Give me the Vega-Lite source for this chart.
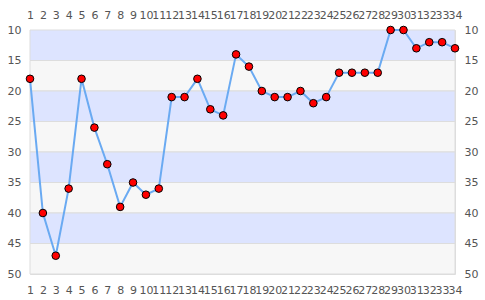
{
  "$schema": "https://vega.github.io/schema/vega-lite/v6.json",
  "width": 425,
  "height": 244,
  "autosize": "none",
  "padding": {"left": 30, "top": 30, "right": 30, "bottom": 26},
  "config": {
    "view": {"stroke": "#dddddd", "strokeWidth": 1},
    "font": "DejaVu Sans",
    "axis": {"labelFont": "DejaVu Sans", "labelFontSize": 11, "labelColor": "#555555", "ticks": false, "domain": false, "grid": false, "title": null}
  },
  "datasets": {
    "bands": [
      {"y1": 10, "y2": 15, "c": "a"},
      {"y1": 15, "y2": 20, "c": "b"},
      {"y1": 20, "y2": 25, "c": "a"},
      {"y1": 25, "y2": 30, "c": "b"},
      {"y1": 30, "y2": 35, "c": "a"},
      {"y1": 35, "y2": 40, "c": "b"},
      {"y1": 40, "y2": 45, "c": "a"},
      {"y1": 45, "y2": 50, "c": "b"}
    ],
    "pts": [
      {"x": 1, "y": 18}, {"x": 2, "y": 40}, {"x": 3, "y": 47}, {"x": 4, "y": 36},
      {"x": 5, "y": 18}, {"x": 6, "y": 26}, {"x": 7, "y": 32}, {"x": 8, "y": 39},
      {"x": 9, "y": 35}, {"x": 10, "y": 37}, {"x": 11, "y": 36}, {"x": 12, "y": 21},
      {"x": 13, "y": 21}, {"x": 14, "y": 18}, {"x": 15, "y": 23}, {"x": 16, "y": 24},
      {"x": 17, "y": 14}, {"x": 18, "y": 16}, {"x": 19, "y": 20}, {"x": 20, "y": 21},
      {"x": 21, "y": 21}, {"x": 22, "y": 20}, {"x": 23, "y": 22}, {"x": 24, "y": 21},
      {"x": 25, "y": 17}, {"x": 26, "y": 17}, {"x": 27, "y": 17}, {"x": 28, "y": 17},
      {"x": 29, "y": 10}, {"x": 30, "y": 10}, {"x": 31, "y": 13}, {"x": 32, "y": 12},
      {"x": 33, "y": 12}, {"x": 34, "y": 13}
    ]
  },
  "layer": [
    {
      "data": {"name": "bands"},
      "mark": {"type": "rect", "stroke": "#dddddd", "strokeWidth": 1},
      "encoding": {
        "y": {"field": "y1", "type": "quantitative", "scale": {"domain": [10, 50], "reverse": true, "nice": false, "zero": false}, "axis": {"values": [10, 15, 20, 25, 30, 35, 40, 45, 50], "orient": "left", "labelPadding": 9}},
        "y2": {"field": "y2"},
        "color": {"field": "c", "type": "nominal", "scale": {"domain": ["a", "b"], "range": ["#dde4ff", "#f7f7f7"]}, "legend": null}
      }
    },
    {
      "data": {"name": "pts"},
      "mark": {"type": "line", "color": "#6aaaf2", "strokeWidth": 2},
      "encoding": {
        "x": {"field": "x", "type": "quantitative", "scale": {"domain": [1, 34], "nice": false, "zero": false}, "axis": {"values": [1,2,3,4,5,6,7,8,9,10,11,12,13,14,15,16,17,18,19,20,21,22,23,24,25,26,27,28,29,30,31,32,33,34], "orient": "bottom", "labelOverlap": false, "labelFlush": false, "labelPadding": 10}},
        "y": {"field": "y", "type": "quantitative", "axis": null}
      }
    },
    {
      "data": {"name": "pts"},
      "mark": {"type": "point", "filled": true, "fill": "#ff0000", "stroke": "#000000", "strokeWidth": 1, "size": 58, "opacity": 1},
      "encoding": {
        "x": {"field": "x", "type": "quantitative", "axis": {"values": [1,2,3,4,5,6,7,8,9,10,11,12,13,14,15,16,17,18,19,20,21,22,23,24,25,26,27,28,29,30,31,32,33,34], "orient": "top", "labelOverlap": false, "labelFlush": false, "labelPadding": 10}},
        "y": {"field": "y", "type": "quantitative", "axis": {"values": [10, 15, 20, 25, 30, 35, 40, 45, 50], "orient": "right", "labelPadding": 9}}
      }
    }
  ],
  "resolve": {"axis": {"x": "independent", "y": "independent"}}
}
